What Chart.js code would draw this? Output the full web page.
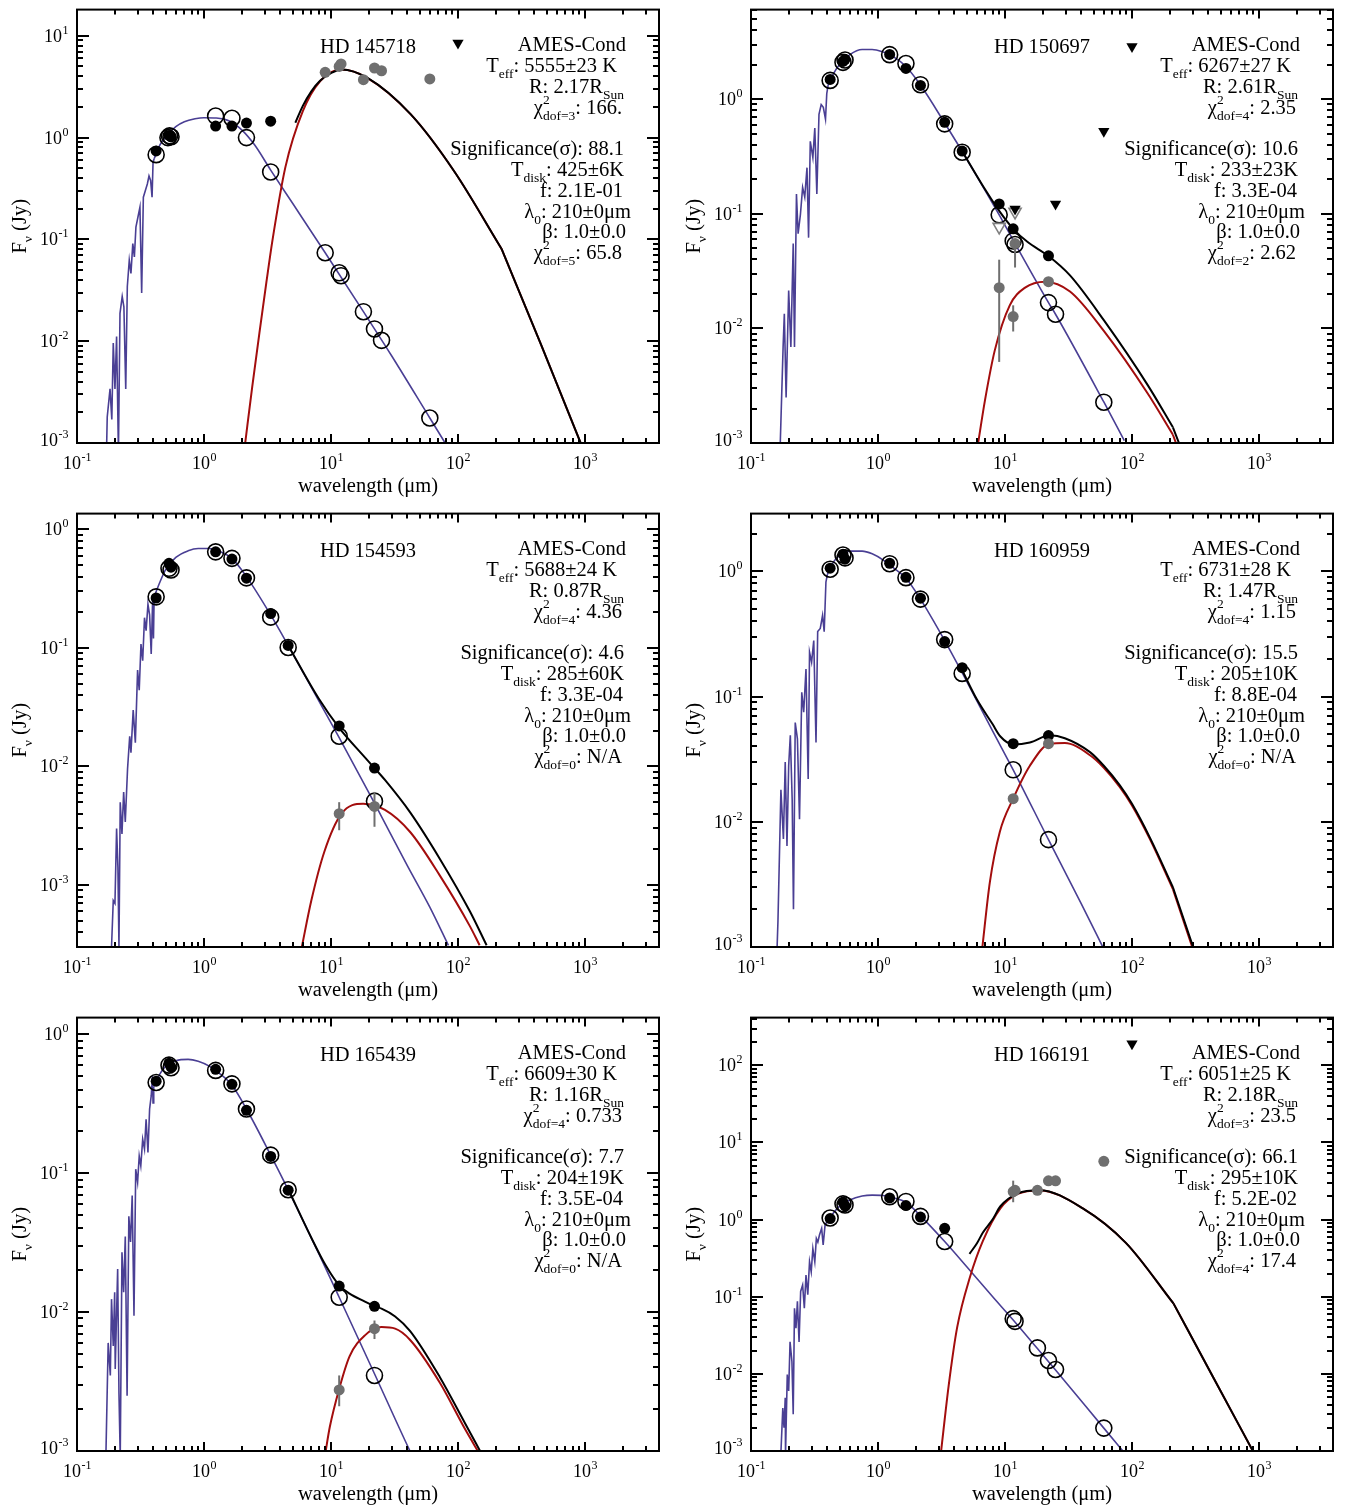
<!DOCTYPE html>
<html>
<head>
<meta charset="utf-8">
<script src="https://cdn.jsdelivr.net/npm/chart.js@4.4.0/dist/chart.umd.min.js"></script>
<style>
  body { margin: 0; background: #fff; }
  #wrap { position: relative; width: 1345px; height: 1509px; background: #fff; }
  canvas { position: absolute; }
</style>
</head>
<body>
<div id="wrap"></div>
<script>
// ---- HD 145718 ----
var p1Uv = [[0.171,0.0009],[0.173,0.0018],[0.182,0.0034],[0.188,0.0017],[0.193,0.0096],[0.199,0.0034],[0.205,0.0111],[0.212,0.0008],[0.218,0.0188],[0.227,0.0275],[0.234,0.0218],[0.242,0.0034],[0.249,0.0345],[0.258,0.0624],[0.266,0.0464],[0.275,0.0912],[0.283,0.0673],[0.291,0.132],[0.302,0.166],[0.313,0.207],[0.323,0.0297],[0.333,0.26],[0.345,0.30],[0.358,0.35],[0.369,0.42],[0.38,0.38],[0.39,0.26],[0.397,0.57],[0.405,0.62]];
var p1Star = [[0.405,0.62],[0.45,0.85],[0.5,1.02],[0.6,1.28],[0.7,1.43],[0.85,1.53],[1.0,1.57],[1.25,1.56],[1.6,1.45],[2.0,1.18],[2.5,0.85],[3.35,0.48],[5,0.225],[9,0.074],[18,0.0195],[30,0.0072],[60,0.00176],[80,0.00098]];
var p1Disk = [[2.1,0.00095],[2.4,0.0036],[2.73,0.012],[3.1,0.038],[3.46,0.098],[4.37,0.51],[6.0,1.82],[8.2,3.58],[12.1,4.66],[19.4,3.85],[42.5,1.69],[93,0.47],[220,0.081],[455,0.0090],[940,0.00095]];
var p1Total = [[5.24,1.4],[6.0,2.05],[7,2.85],[8.2,3.62],[10,4.3],[12.1,4.68],[19.4,3.86],[42.5,1.69],[93,0.47],[220,0.081],[455,0.0090],[940,0.00095]];
var p1Obs = [[0.42,0.74],[0.53,1.05],[0.55,1.02],[1.235,1.30],[1.66,1.30],[2.16,1.39],[3.35,1.45]];
var p1Model = [[0.42,0.68],[0.52,1.0],[0.535,1.04],[0.55,1.02],[1.235,1.63],[1.66,1.55],[2.16,1.0],[3.35,0.46],[9,0.074],[11.6,0.047],[12,0.044],[18,0.0195],[22,0.0132],[25,0.0102],[60,0.00176]];
var p1Excess = [[9,4.38],[11.6,5.0],[12,5.3],[18,3.71],[22,4.83],[25,4.54],[60,3.77]];
var p1Limit = [[100,8.5]];
var p1GrayLimit = [];
var p1Text = ['HD 145718','5555±23 K','2.17','3','166.','88.1','425±6K','2.1E-01','5','65.8'];

// ---- HD 150697 ----
var p2Uv = [[0.169,0.0008],[0.179,0.0069],[0.183,0.0134],[0.189,0.0025],[0.198,0.0214],[0.206,0.0069],[0.215,0.055],[0.22,0.0069],[0.228,0.149],[0.235,0.067],[0.245,0.099],[0.255,0.17],[0.265,0.14],[0.276,0.253],[0.284,0.062],[0.293,0.43],[0.307,0.31],[0.318,0.56],[0.33,0.149],[0.343,0.74],[0.357,0.9],[0.371,0.85],[0.386,0.67],[0.395,1.12],[0.405,1.33]];
var p2Star = [[0.405,1.33],[0.45,1.7],[0.5,2.02],[0.6,2.45],[0.75,2.72],[0.9,2.72],[1.1,2.58],[1.3,2.38],[1.66,1.93],[2.16,1.33],[3.35,0.62],[4.6,0.35],[9,0.098],[12,0.055],[22,0.0168],[25,0.0133],[60,0.00228],[87,0.00105]];
var p2Disk = [[6.1,0.00095],[6.96,0.00237],[8.3,0.0064],[10.9,0.0159],[14.4,0.0227],[20.7,0.0256],[32.5,0.021],[60,0.0095],[133,0.0027],[210,0.00118],[240,0.00079]];
var p2Total = [[4.6,0.352],[7,0.162],[9,0.106],[11.6,0.074],[15,0.057],[22,0.0428],[32.5,0.029],[60,0.0118],[133,0.0032],[210,0.00137],[245,0.00088]];
var p2Obs = [[0.42,1.49],[0.53,2.14],[0.55,2.23],[1.235,2.46],[1.66,1.86],[2.16,1.32],[3.35,0.63],[4.6,0.353],[9,0.122],[11.6,0.074],[22,0.043]];
var p2Model = [[0.42,1.46],[0.53,2.1],[0.55,2.2],[1.235,2.45],[1.66,2.05],[2.16,1.34],[3.35,0.61],[4.6,0.345],[9,0.098],[11.6,0.058],[12,0.054],[22,0.0168],[25,0.0133],[60,0.00227]];
var p2Excess = [[9,0.0227,0.0051,0.0398],[11.6,0.0127,0.0094,0.0159],[12,0.055,0.034,0.06],[22,0.0256]];
var p2Limit = [[12,0.11],[25,0.122],[60,0.527],[100,2.89]];
var p2GrayLimit = [[9,0.077],[12,0.104]];
var p2Text = ['HD 150697','6267±27 K','2.61','4','2.35','10.6','233±23K','3.3E-04','2','2.62'];

// ---- HD 154593 ----
var p3Uv = [[0.187,0.0003],[0.193,0.00074],[0.199,0.0007],[0.205,0.003],[0.21,0.0014],[0.214,0.0003],[0.219,0.005],[0.226,0.0027],[0.233,0.0061],[0.24,0.0034],[0.25,0.0095],[0.26,0.018],[0.266,0.0131],[0.277,0.03],[0.288,0.0159],[0.3,0.065],[0.309,0.044],[0.319,0.108],[0.329,0.078],[0.34,0.18],[0.35,0.14],[0.362,0.233],[0.373,0.19],[0.384,0.089],[0.394,0.25],[0.40,0.12],[0.405,0.27]];
var p3Star = [[0.405,0.27],[0.45,0.36],[0.5,0.46],[0.6,0.58],[0.75,0.66],[0.9,0.69],[1.1,0.69],[1.3,0.66],[1.66,0.57],[2.16,0.4],[3.35,0.19],[4.6,0.105],[8,0.036],[11.6,0.0175],[22,0.0049],[40,0.00145],[60,0.00065],[84,0.00031]];
var p3Disk = [[5.89,0.0003],[7.0,0.00074],[8.85,0.0019],[12.1,0.004],[17.9,0.00485],[26.6,0.0043],[42,0.0028],[72,0.0012],[124,0.00045],[148,0.00031]];
var p3Total = [[4.6,0.105],[8,0.0375],[11.6,0.0212],[17.9,0.0124],[22,0.0097],[26.6,0.0077],[42,0.0041],[72,0.00166],[124,0.0006],[168,0.00031]];
var p3Obs = [[0.42,0.264],[0.53,0.518],[0.55,0.48],[1.235,0.647],[1.66,0.562],[2.16,0.388],[3.35,0.195],[4.6,0.105],[11.6,0.022],[22,0.0097]];
var p3Model = [[0.42,0.27],[0.53,0.47],[0.55,0.455],[1.235,0.647],[1.66,0.57],[2.16,0.39],[3.35,0.182],[4.6,0.101],[11.6,0.018],[22,0.0051]];
var p3Excess = [[11.6,0.004,0.0029,0.005],[22,0.0046,0.0031,0.0061]];
var p3Limit = [];
var p3GrayLimit = [];
var p3Text = ['HD 154593','5688±24 K','0.87','4','4.36','4.6','285±60K','3.3E-04','0','N/A'];

// ---- HD 160959 ----
var p4Uv = [[0.16,0.0009],[0.163,0.0016],[0.172,0.018],[0.18,0.0073],[0.186,0.03],[0.192,0.0064],[0.198,0.028],[0.204,0.049],[0.211,0.015],[0.216,0.002],[0.223,0.062],[0.232,0.046],[0.241,0.0105],[0.251,0.108],[0.26,0.075],[0.271,0.166],[0.282,0.022],[0.289,0.226],[0.3,0.188],[0.312,0.28],[0.325,0.043],[0.335,0.33],[0.351,0.35],[0.366,0.445],[0.377,0.33],[0.389,0.82],[0.40,0.95]];
var p4Star = [[0.40,0.95],[0.45,1.2],[0.5,1.34],[0.6,1.45],[0.75,1.45],[0.9,1.38],[1.1,1.23],[1.3,1.08],[1.66,0.88],[2.16,0.6],[3.35,0.28],[4.6,0.155],[8,0.053],[11.6,0.026],[22,0.0072],[40,0.0022],[62,0.0009]];
var p4Disk = [[6.6,0.00095],[7.6,0.0033],[9.1,0.0083],[11.6,0.0153],[15.7,0.028],[22.6,0.042],[29.6,0.0425],[46.7,0.034],[60,0.027],[80,0.019],[100,0.0135],[139,0.0072],[210,0.0029],[300,0.00098]];
var p4Total = [[4.6,0.162],[6,0.095],[8,0.06],[9.2,0.048],[11.6,0.0415],[15.7,0.043],[22.6,0.049],[29.6,0.0465],[46.7,0.036],[60,0.028],[80,0.0196],[100,0.0139],[139,0.0074],[210,0.0030],[305,0.00098]];
var p4Obs = [[0.42,1.06],[0.53,1.37],[0.55,1.25],[1.235,1.16],[1.66,0.895],[2.16,0.61],[3.35,0.275],[4.6,0.17],[11.6,0.042],[22,0.0488]];
var p4Model = [[0.42,1.04],[0.53,1.35],[0.55,1.28],[1.235,1.15],[1.66,0.89],[2.16,0.6],[3.35,0.285],[4.6,0.153],[11.6,0.026],[22,0.0072]];
var p4Excess = [[11.6,0.0153],[22,0.042]];
var p4Limit = [];
var p4GrayLimit = [];
var p4Text = ['HD 160959','6731±28 K','1.47','4','1.15','15.5','205±10K','8.8E-04','0','N/A'];

// ---- HD 165439 ----
var p5Uv = [[0.169,0.00096],[0.176,0.006],[0.183,0.0035],[0.187,0.0124],[0.193,0.0057],[0.198,0.0139],[0.2,0.0039],[0.209,0.0204],[0.214,0.0026],[0.219,0.0009],[0.226,0.027],[0.233,0.0139],[0.24,0.035],[0.248,0.0025],[0.256,0.049],[0.264,0.032],[0.272,0.069],[0.281,0.0094],[0.29,0.107],[0.3,0.086],[0.309,0.133],[0.318,0.113],[0.329,0.176],[0.34,0.149],[0.35,0.245],[0.362,0.141],[0.373,0.29],[0.384,0.36],[0.393,0.5],[0.397,0.32],[0.402,0.42]];
var p5Star = [[0.402,0.42],[0.45,0.52],[0.5,0.59],[0.6,0.645],[0.75,0.66],[0.9,0.64],[1.1,0.59],[1.3,0.53],[1.66,0.43],[2.16,0.29],[3.35,0.135],[4.6,0.076],[8,0.0265],[11.6,0.0128],[22,0.0036],[41,0.00104],[43,0.00095]];
var p5Disk = [[9.0,0.00095],[9.8,0.0015],[11.6,0.0028],[14,0.0048],[18.5,0.0068],[25,0.0078],[32,0.0076],[42,0.0063],[72,0.0031],[113,0.00145],[148,0.00095]];
var p5Total = [[4.6,0.077],[7,0.0343],[9,0.022],[11.6,0.0156],[14,0.0136],[18.5,0.0119],[22,0.011],[25,0.0106],[32,0.0093],[42,0.0073],[72,0.0034],[113,0.0016],[152,0.00097]];
var p5Obs = [[0.42,0.46],[0.53,0.62],[0.55,0.58],[1.235,0.56],[1.66,0.437],[2.16,0.284],[3.35,0.132],[4.6,0.0755],[11.6,0.0154],[22,0.011]];
var p5Model = [[0.42,0.45],[0.53,0.6],[0.55,0.575],[1.235,0.55],[1.66,0.44],[2.16,0.29],[3.35,0.135],[4.6,0.076],[11.6,0.0128],[22,0.0035]];
var p5Excess = [[11.6,0.00275,0.0021,0.0035],[22,0.0076,0.0064,0.0087]];
var p5Limit = [];
var p5GrayLimit = [];
var p5Text = ['HD 165439','6609±30 K','1.16','4','0.733','7.7','204±19K','3.5E-04','0','N/A'];

// ---- HD 166191 ----
var p6Uv = [[0.172,0.00095],[0.178,0.0036],[0.182,0.002],[0.186,0.0049],[0.187,0.0009],[0.193,0.0098],[0.198,0.006],[0.203,0.026],[0.21,0.0145],[0.215,0.003],[0.22,0.071],[0.226,0.039],[0.232,0.087],[0.239,0.026],[0.246,0.117],[0.255,0.142],[0.263,0.071],[0.271,0.191],[0.28,0.106],[0.289,0.284],[0.298,0.211],[0.307,0.42],[0.318,0.284],[0.327,0.57],[0.336,0.51],[0.346,0.63],[0.36,0.77],[0.37,0.47],[0.383,0.85],[0.395,0.93],[0.402,0.95]];
var p6Star = [[0.402,0.95],[0.45,1.25],[0.5,1.5],[0.6,1.8],[0.75,2.02],[0.9,2.08],[1.1,2.05],[1.3,1.93],[1.66,1.68],[2.16,1.12],[3.35,0.52],[5,0.245],[8,0.1],[11.6,0.05],[18,0.0213],[25,0.0112],[60,0.00198],[87,0.00095]];
var p6Disk = [[3.13,0.00095],[3.6,0.007],[4.2,0.04],[5.3,0.18],[6.7,0.53],[9.2,1.4],[12.6,2.15],[18.7,2.39],[41,1.4],[89.5,0.5],[212,0.082],[440,0.0088],[910,0.00095]];
var p6Total = [[5.25,0.36],[6.0,0.49],[6.7,0.68],[8,1.01],[9.2,1.49],[12.6,2.19],[18.7,2.41],[41,1.4],[89.5,0.5],[212,0.082],[440,0.0088],[910,0.00095]];
var p6Obs = [[0.42,1.03],[0.53,1.68],[0.55,1.51],[1.235,1.91],[1.66,1.52],[2.16,1.08],[3.35,0.77]];
var p6Model = [[0.42,1.05],[0.53,1.6],[0.55,1.55],[1.235,1.98],[1.66,1.72],[2.16,1.1],[3.35,0.52],[11.6,0.052],[12,0.048],[18,0.0217],[22,0.0149],[25,0.0114],[60,0.00198]];
var p6Excess = [[11.6,2.3,1.68,3.2],[12,2.4],[18,2.4],[22,3.18],[25,3.18],[60,5.7,5.2,6.3]];
var p6Limit = [[100,190]];
var p6GrayLimit = [];
var p6Text = ['HD 166191','6051±25 K','2.18','3','23.5','66.1','295±10K','5.2E-02','4','17.4'];

var xMin = 0.1, xMax = 3826;

// layout: cell = canvas rect, frame = plot box [left, top, right, bottom]
var panels = [
  { cell: [0, 0, 672, 504],      frame: [77, 8, 659, 443],     ymin: 1.0e-3, ymax: 18.1,
    uv: p1Uv, star: p1Star, disk: p1Disk, total: p1Total, obs: p1Obs, model: p1Model, excess: p1Excess, lim: p1Limit, glim: p1GrayLimit, text: p1Text },
  { cell: [672, 0, 673, 504],    frame: [751, 8, 1333, 443],   ymin: 1.0e-3, ymax: 6.06,
    uv: p2Uv, star: p2Star, disk: p2Disk, total: p2Total, obs: p2Obs, model: p2Model, excess: p2Excess, lim: p2Limit, glim: p2GrayLimit, text: p2Text },
  { cell: [0, 504, 672, 504],    frame: [77, 512, 659, 947],   ymin: 3.2e-4, ymax: 1.36,
    uv: p3Uv, star: p3Star, disk: p3Disk, total: p3Total, obs: p3Obs, model: p3Model, excess: p3Excess, lim: p3Limit, glim: p3GrayLimit, text: p3Text },
  { cell: [672, 504, 673, 504],  frame: [751, 512, 1333, 947], ymin: 1.0e-3, ymax: 2.89,
    uv: p4Uv, star: p4Star, disk: p4Disk, total: p4Total, obs: p4Obs, model: p4Model, excess: p4Excess, lim: p4Limit, glim: p4GrayLimit, text: p4Text },
  { cell: [0, 1008, 672, 501],   frame: [77, 1016, 659, 1451], ymin: 1.0e-3, ymax: 1.32,
    uv: p5Uv, star: p5Star, disk: p5Disk, total: p5Total, obs: p5Obs, model: p5Model, excess: p5Excess, lim: p5Limit, glim: p5GrayLimit, text: p5Text },
  { cell: [672, 1008, 673, 501], frame: [751, 1016, 1333, 1451], ymin: 1.0e-3, ymax: 416,
    uv: p6Uv, star: p6Star, disk: p6Disk, total: p6Total, obs: p6Obs, model: p6Model, excess: p6Excess, lim: p6Limit, glim: p6GrayLimit, text: p6Text }
];

var BLUE = '#4a3f94', RED = '#a30d0d', GRAY = '#6f6f6f';
var SERIF = '"Liberation Serif", "Times New Roman", serif';
var BIG = 20.5, SMALL = 13.5;

function pts(a) { return a.map(function (d) { return { x: d[0], y: d[1] }; }); }

function logTicks(min, max) {
  var out = [];
  for (var e = Math.floor(Math.log10(min)); e <= Math.ceil(Math.log10(max)); e++) {
    for (var m = 1; m <= 9; m++) {
      var v = m * Math.pow(10, e);
      if (v >= min * 0.999 && v <= max * 1.001) out.push({ v: v, major: m === 1, e: e });
    }
  }
  return out;
}

function drawPow(ctx, e, x, y, center) {
  var ex = String(e);
  ctx.font = '18px ' + SERIF;
  var w1 = ctx.measureText('10').width;
  ctx.font = '12px ' + SERIF;
  var w2 = ctx.measureText(ex).width;
  var x0 = center ? x - (w1 + w2) / 2 : x - (w1 + w2);
  ctx.font = '18px ' + SERIF;
  ctx.fillText('10', x0, y);
  ctx.font = '12px ' + SERIF;
  ctx.fillText(ex, x0 + w1 + 0.5, y - 8);
}

function segWidth(ctx, s) {
  if (s[1] === 'n') { ctx.font = BIG + 'px ' + SERIF; return ctx.measureText(s[0]).width; }
  ctx.font = SMALL + 'px ' + SERIF;
  if (s[1] === 'pb') return Math.max(ctx.measureText(s[0][0]).width, ctx.measureText(s[0][1]).width);
  return ctx.measureText(s[0]).width;
}

function drawRich(ctx, segs, xr, y) {
  var ws = segs.map(function (s) { return segWidth(ctx, s); });
  var x = xr - ws.reduce(function (a, b) { return a + b; }, 0);
  segs.forEach(function (s, i) {
    if (s[1] === 'n') {
      ctx.font = BIG + 'px ' + SERIF; ctx.fillText(s[0], x, y);
    } else {
      ctx.font = SMALL + 'px ' + SERIF;
      if (s[1] === 'b') ctx.fillText(s[0], x, y + 6);
      else if (s[1] === 'p') ctx.fillText(s[0], x, y - 9);
      else { ctx.fillText(s[0][0], x, y - 10); ctx.fillText(s[0][1], x, y + 6); }
    }
    x += ws[i];
  });
}

function sedPlugin(p) {
  return {
    id: 'sed',
    afterDatasetsDraw: function (chart) {
      var ctx = chart.ctx, xs = chart.scales.x, ys = chart.scales.y;
      ctx.save();
      ctx.strokeStyle = GRAY;
      ctx.lineWidth = 2;
      p.excess.forEach(function (d) {
        if (d.length < 4) return;
        var px = xs.getPixelForValue(d[0]);
        ctx.beginPath();
        ctx.moveTo(px, ys.getPixelForValue(d[2]));
        ctx.lineTo(px, ys.getPixelForValue(d[3]));
        ctx.stroke();
      });
      ctx.restore();
    },
    afterDraw: function (chart) {
      var ctx = chart.ctx, a = chart.chartArea, xs = chart.scales.x, ys = chart.scales.y;
      ctx.save();
      ctx.strokeStyle = '#000';
      ctx.fillStyle = '#000';
      ctx.lineWidth = 2;
      ctx.strokeRect(a.left, a.top, a.right - a.left, a.bottom - a.top);
      // x ticks, bottom and top, pointing inward
      logTicks(xMin, xMax).forEach(function (t) {
        var px = Math.round(xs.getPixelForValue(t.v));
        var len = t.major ? 9 : 5;
        ctx.beginPath();
        ctx.moveTo(px, a.bottom); ctx.lineTo(px, a.bottom - len);
        ctx.moveTo(px, a.top); ctx.lineTo(px, a.top + len);
        ctx.stroke();
      });
      // y ticks, left and right
      logTicks(p.ymin, p.ymax).forEach(function (t) {
        var py = Math.round(ys.getPixelForValue(t.v));
        var len = t.major ? 12 : 6;
        ctx.beginPath();
        ctx.moveTo(a.left, py); ctx.lineTo(a.left + len, py);
        ctx.moveTo(a.right, py); ctx.lineTo(a.right - len, py);
        ctx.stroke();
      });
      ctx.textAlign = 'left';
      ctx.textBaseline = 'alphabetic';
      logTicks(xMin, xMax).forEach(function (t) {
        if (!t.major) return;
        drawPow(ctx, t.e, xs.getPixelForValue(t.v), a.bottom + 26, true);
      });
      logTicks(p.ymin, p.ymax).forEach(function (t) {
        if (!t.major) return;
        var py = ys.getPixelForValue(t.v);
        if (a.bottom - py < 5) py = a.bottom - 3;
        drawPow(ctx, t.e, a.left - 9, py + 6, false);
      });
      // axis titles
      var xt = [['wavelength (μm)', 'n']];
      var wx = segWidth(ctx, xt[0]);
      drawRich(ctx, xt, (a.left + a.right) / 2 + wx / 2, a.bottom + 49);
      ctx.save();
      ctx.translate(a.left - 51, (a.top + a.bottom) / 2);
      ctx.rotate(-Math.PI / 2);
      var yt = [['F', 'n'], ['ν', 'b'], [' (Jy)', 'n']];
      var wy = yt.map(function (s) { return segWidth(ctx, s); }).reduce(function (m, n) { return m + n; }, 0);
      drawRich(ctx, yt, wy / 2, 0);
      ctx.restore();
      // labels block
      var T = p.text;
      ctx.font = BIG + 'px ' + SERIF;
      ctx.textAlign = 'center';
      ctx.fillText(T[0], a.left + 291, a.top + 43);
      ctx.textAlign = 'left';
      var lines = [
        [['AMES-Cond', 'n']],
        [['T', 'n'], ['eff', 'b'], [': ' + T[1], 'n']],
        [['R: ' + T[2] + 'R', 'n'], ['Sun', 'b']],
        [['χ', 'n'], [['2', 'dof=' + T[3]], 'pb'], [': ' + T[4], 'n']],
        [['Significance(σ): ' + T[5], 'n']],
        [['T', 'n'], ['disk', 'b'], [': ' + T[6], 'n']],
        [['f: ' + T[7], 'n']],
        [['λ', 'n'], ['0', 'b'], [': 210±0μm', 'n']],
        [['β: 1.0±0.0', 'n']],
        [['χ', 'n'], [['2', 'dof=' + T[8]], 'pb'], [': ' + T[9], 'n']]
      ];
      var rightOff = [33, 42, 35, 37, 35, 35, 36, 28, 33, 37];
      lines.forEach(function (segs, i) {
        var y = i < 4 ? a.top + 41.5 + 20.8 * i : a.top + 145.5 + 20.8 * (i - 4);
        drawRich(ctx, segs, a.right - rightOff[i], y);
      });
      ctx.restore();
    }
  };
}

// split a model curve at the lambda_0 break (around 210 um) so the kink stays sharp
function pieces(arr) {
  for (var i = 1; i < arr.length - 1; i++) {
    if (arr[i][0] >= 195 && arr[i][0] <= 230) return [arr.slice(0, i + 1), arr.slice(i)];
  }
  return [arr];
}

function curves(data, color, width, order, smooth) {
  return pieces(data).map(function (part) {
    return {
      data: pts(part), showLine: true, borderColor: color, borderWidth: width,
      pointRadius: 0, tension: 0, cubicInterpolationMode: smooth ? 'monotone' : 'default',
      order: order
    };
  });
}

function marks(data, opt) {
  return Object.assign({ data: pts(data), showLine: false, pointBorderWidth: 0, pointHoverRadius: 0 }, opt);
}

var wrap = document.getElementById('wrap');
panels.forEach(function (p) {
  var c = document.createElement('canvas');
  c.width = p.cell[2]; c.height = p.cell[3];
  c.style.left = p.cell[0] + 'px'; c.style.top = p.cell[1] + 'px';
  c.style.width = p.cell[2] + 'px'; c.style.height = p.cell[3] + 'px';
  wrap.appendChild(c);
  var sets = [].concat(
    curves(p.uv, BLUE, 1.6, 20, false),
    curves(p.star, BLUE, 1.6, 19, true),
    curves(p.disk, RED, 2, 18, true),
    curves(p.total, '#000', 2, 17, true),
    [
      marks(p.model, { pointRadius: 8, pointBackgroundColor: 'rgba(0,0,0,0)', pointBorderColor: '#000', pointBorderWidth: 1.6, order: 16 }),
      marks(p.obs, { pointRadius: 5.5, pointBackgroundColor: '#000', order: 15 }),
      marks(p.excess, { pointRadius: 5.5, pointBackgroundColor: GRAY, order: 14 }),
      marks(p.glim, { pointStyle: 'triangle', rotation: 180, pointRadius: 7, pointBackgroundColor: 'rgba(0,0,0,0)', pointBorderColor: '#808080', pointBorderWidth: 1.6, order: 13 }),
      marks(p.lim, { pointStyle: 'triangle', rotation: 180, pointRadius: 6.5, pointBackgroundColor: '#000', order: 12 })
    ]
  );
  new Chart(c, {
    type: 'scatter',
    data: { datasets: sets },
    options: {
      responsive: false,
      animation: false,
      events: [],
      layout: { padding: {
        left: p.frame[0] - p.cell[0],
        top: p.frame[1] - p.cell[1],
        right: p.cell[0] + p.cell[2] - p.frame[2],
        bottom: p.cell[1] + p.cell[3] - p.frame[3]
      } },
      scales: {
        x: { type: 'logarithmic', min: xMin, max: xMax, display: false },
        y: { type: 'logarithmic', min: p.ymin, max: p.ymax, display: false }
      },
      plugins: { legend: { display: false }, tooltip: { enabled: false } }
    },
    plugins: [sedPlugin(p)]
  });
});
</script>
</body>
</html>
